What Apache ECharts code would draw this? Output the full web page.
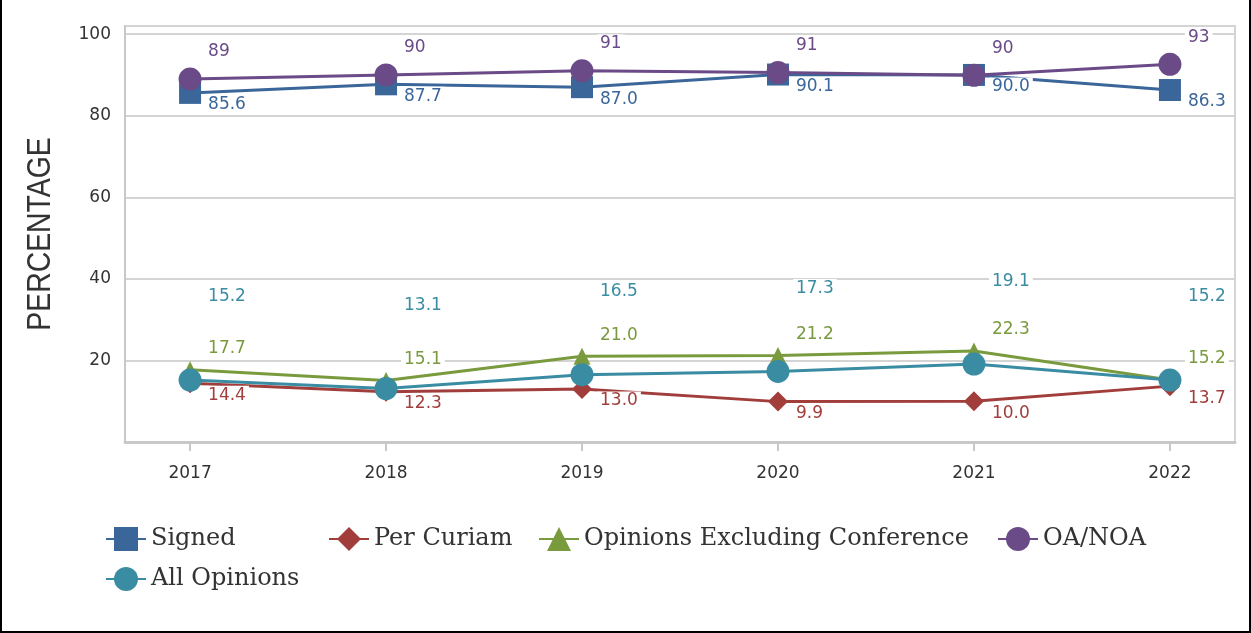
<!DOCTYPE html>
<html>
<head>
<meta charset="utf-8">
<title>Opinions percentage</title>
<script src="https://cdn.jsdelivr.net/npm/echarts@6/dist/echarts.min.js"></script>
<style>
    body { margin: 0; background: #fff; }
    #wrap { position: relative; width: 1251px; height: 633px; }
    #chart { position: absolute; left: 0; top: 0; width: 1251px; height: 633px; }
    #frame { position: absolute; left: 0; top: 0; width: 1251px; height: 633px; box-sizing: border-box;
             border-left: 2px solid #000; border-right: 2px solid #000; border-bottom: 2px solid #000; pointer-events: none; }
</style>
</head>
<body>
<div id="wrap">
    <div id="chart"></div>
    <div id="frame"></div>
</div>
<script>
// values
var years = [2017, 2018, 2019, 2020, 2021, 2022];
var signed = [85.6, 87.7, 87.0, 90.1, 90.0, 86.3];
var perCuriam = [14.4, 12.3, 13.0, 9.9, 10.0, 13.7];
var exclConference = [17.7, 15.1, 21.0, 21.2, 22.3, 15.2];
var oaNoa = [89.0, 90.0, 91.0, 90.6, 89.9, 92.6];
var allOpinions = [15.2, 13.1, 16.5, 17.3, 19.1, 15.2];
var yTicks = [20, 40, 60, 80, 100];

var chart = echarts.init(document.getElementById('chart'));

function lineSeries(name, values, color, symbol, size, dy, digits) {
    return {
        name: name,
        type: 'line',
        data: years.map(function (y, i) { return [y, values[i]]; }),
        symbol: symbol,
        symbolSize: size,
        lineStyle: {color: color, width: 3},
        itemStyle: {color: color},
        emphasis: {disabled: true},
        label: {
            show: true,
            position: 'inside',
            align: 'left',
            verticalAlign: 'middle',
            offset: [15, dy],
            color: color,
            fontFamily: 'DejaVu Sans',
            fontSize: 17,
            backgroundColor: '#fff',
            padding: [1, 3],
            formatter: function (p) { return p.value[1].toFixed(digits); }
        }
    };
}

function legendAt(name, left, top) {
    return {
        data: [name],
        left: left,
        top: top,
        padding: 0,
        itemWidth: 40,
        itemHeight: 30,
        selectedMode: false,
        textStyle: {fontFamily: 'DejaVu Serif', fontSize: 24, color: '#333'}
    };
}

chart.setOption({
    animation: false,
    backgroundColor: '#fff',
    legend: [
        legendAt('Signed', 105, 527),
        legendAt('Per Curiam', 328, 527),
        legendAt('Opinions Excluding Conference', 538, 527),
        legendAt('OA/NOA', 997, 527),
        legendAt('All Opinions', 105, 567)
    ],
    grid: {
        left: 125,
        right: 16,
        top: 26,
        bottom: 191,
        show: true,
        borderColor: '#d4d4d4',
        borderWidth: 2
    },
    // axis title, narrowed like the original condensed face
    graphic: [{
        type: 'text',
        x: 41,
        y: 234,
        rotation: Math.PI / 2,
        scaleX: 0.86,
        style: {
            text: 'PERCENTAGE',
            font: '33px "Liberation Sans"',
            fill: '#333',
            align: 'center',
            verticalAlign: 'middle'
        }
    }],
    xAxis: {
        type: 'value',
        min: 2016.668,
        max: 2022.332,
        splitLine: {show: false},
        axisLine: {lineStyle: {color: '#c8c8c8', width: 3}},
        axisTick: {
            show: true,
            customValues: years,
            length: 9,
            lineStyle: {color: '#c8c8c8', width: 2}
        },
        axisLabel: {
            customValues: years,
            margin: 23,
            fontFamily: 'DejaVu Sans',
            fontSize: 17,
            color: '#333',
            formatter: function (v) { return String(Math.round(v)); }
        }
    },
    yAxis: {
        type: 'value',
        min: 0,
        max: 102,
        interval: 20,
        axisLine: {show: true, lineStyle: {color: '#c8c8c8', width: 2}},
        axisTick: {show: false},
        splitLine: {lineStyle: {color: '#d4d4d4', width: 2}},
        axisLabel: {
            margin: 14,
            fontFamily: 'DejaVu Sans',
            fontSize: 17,
            color: '#333',
            formatter: function (v) { return yTicks.indexOf(v) >= 0 ? String(v) : ''; }
        }
    },
    series: [
        lineSeries('Signed', signed, '#3b6699', 'rect', 22, 12, 1),
        lineSeries('Per Curiam', perCuriam, '#a13e3b', 'diamond', 20, 12, 1),
        lineSeries('Opinions Excluding Conference', exclConference, '#7a9a3e', 'triangle', 17, -21, 1),
        lineSeries('OA/NOA', oaNoa, '#6a4b88', 'circle', 23, -27, 0),
        lineSeries('All Opinions', allOpinions, '#3a8ca3', 'circle', 23, -83, 1)
    ]
});
</script>
</body>
</html>
